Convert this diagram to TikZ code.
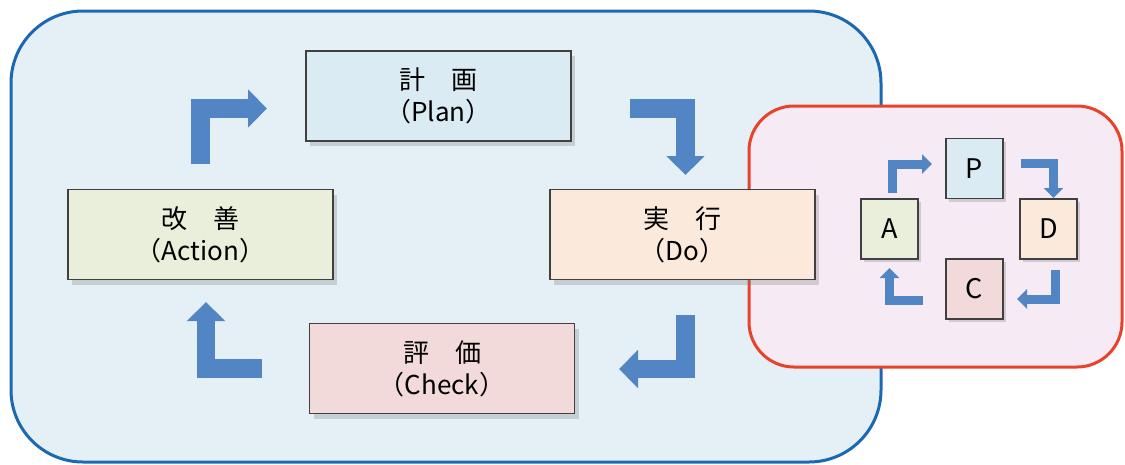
\documentclass[tikz,border=0pt]{standalone}
\usepackage{fontspec}
\setmainfont{Noto Sans CJK JP}
\usepackage{tikz}
\usetikzlibrary{arrows.meta}
\usetikzlibrary{shadows}
\definecolor{outerBlue}{HTML}{1B68B3}
\definecolor{outerFill}{HTML}{E4F0F6}
\definecolor{innerRed}{HTML}{E8432A}
\definecolor{innerFill}{HTML}{F6EBF5}
\definecolor{flowArrow}{HTML}{5285C4}
\definecolor{planFill}{HTML}{DBEBF3}
\definecolor{doFill}{HTML}{FBE9DB}
\definecolor{checkFill}{HTML}{F3DADA}
\definecolor{actFill}{HTML}{EAEFDC}
\definecolor{boxLine}{HTML}{404040}

\begin{document}
\begin{tikzpicture}[x=1pt,y=-1pt,
    stage/.style={draw=boxLine,line width=1.2pt,minimum width=265pt,minimum height=90pt,
        align=center,font=\fontsize{26}{32}\selectfont,
        drop shadow={shadow xshift=4pt,shadow yshift=-5pt,opacity=0.3}},
    mini/.style={draw=boxLine,line width=1.6pt,minimum width=57pt,minimum height=60pt,
        font=\fontsize{27}{30}\selectfont,
        drop shadow={shadow xshift=3pt,shadow yshift=-3pt,opacity=0.3}},
    bigturn/.style={draw=flowArrow,line width=18.5pt,line join=miter,
        -{Triangle[length=19pt,width=37pt]}},
    smallturn/.style={draw=flowArrow,line width=9pt,line join=miter,
        -{Triangle[length=10pt,width=19pt]}}]
    \useasboundingbox (0,0) rectangle (1125,464);

    % draw the two frames
    \draw[outerBlue,line width=3pt,fill=outerFill,rounded corners=72pt] (11,11) rectangle (881,462);
    \draw[innerRed,line width=3pt,fill=innerFill,rounded corners=45pt] (749,106) rectangle (1122,367);

    % draw the four stages
    \node[stage,fill=planFill]  (plan)  at (438.5,96)  {計　画\\（Plan）};
    \node[stage,fill=doFill]    (do)    at (682.5,234.5) {実　行\\（Do）};
    \node[stage,fill=checkFill] (check) at (442,368.5) {評　価\\（Check）};
    \node[stage,fill=actFill]   (act)   at (200.5,234.5) {改　善\\（Action）};

    % draw the big turning arrows
    \draw[bigturn] (200.5,164) |- (267,108.5);
    \draw[bigturn] (630,108.5) -| (685.5,175);
    \draw[bigturn] (685.5,315) |- (619,369);
    \draw[bigturn] (262,368.5) -| (206,302);

    % draw the small cycle
    \node[mini,fill=planFill]  (p) at (974.5,168.5) {P};
    \node[mini,fill=doFill]    (d) at (1048.5,229)  {D};
    \node[mini,fill=checkFill] (c) at (974.5,289)   {C};
    \node[mini,fill=actFill]   (a) at (889.5,229)   {A};

    \draw[smallturn] (892.5,193) |- (932,164);
    \draw[smallturn] (1021,163.5) -| (1053.5,198);
    \draw[smallturn] (1055.5,270) |- (1017,299);
    \draw[smallturn] (923,300) -| (889.5,268);
\end{tikzpicture}
\end{document}
